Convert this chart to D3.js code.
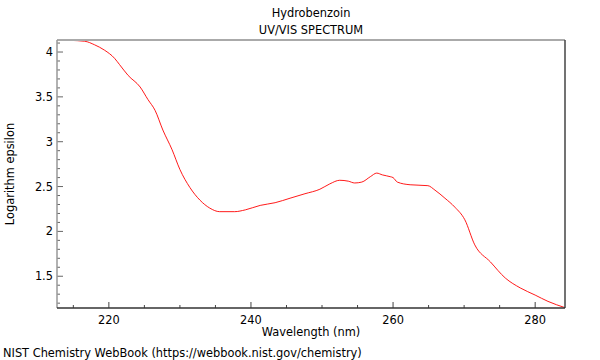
<!DOCTYPE html>
<html><head><meta charset="utf-8">
<script src="https://cdn.jsdelivr.net/npm/d3@7"></script>
<style>body{margin:0;background:#fff}svg{display:block}text{font-family:"DejaVu Sans",sans-serif}</style>
</head><body><svg id="c" width="600" height="360"></svg>
<script>
const wavelength = [212.7,214.5,216.6,218,219.4,220.8,221.5,222.7,224.4,225.5,226.5,227.6,228.9,230,231.4,232.8,234.2,235.6,237.7,239.2,241.3,243.4,245.5,247.6,249.7,251.1,252.5,253.7,254.6,255.6,256.8,257.7,258.5,259.6,260,260.6,262.4,264.9,265.9,267.3,268.7,270.1,271.5,273.7,275.8,277.9,280,281.8,284.2];
const logEps = [4.134,4.13,4.12,4.08,4.02,3.93,3.86,3.74,3.61,3.47,3.35,3.13,2.91,2.69,2.49,2.35,2.26,2.22,2.22,2.24,2.29,2.32,2.37,2.42,2.47,2.53,2.57,2.56,2.54,2.55,2.61,2.65,2.63,2.61,2.60,2.55,2.52,2.51,2.46,2.37,2.27,2.13,1.85,1.66,1.48,1.37,1.29,1.22,1.15];
const xTicks = [220,240,260,280];
const yTicks = [1.5,2,2.5,3,3.5,4];
const titles = ["Hydrobenzoin","UV/VIS SPECTRUM"];

const FS = 11.4;
const svg = d3.select("#c");
const L=57,R=565,T=40,B=308;
const x = d3.scaleLinear().domain([212.7,284.2]).range([L,R]);
const y = d3.scaleLinear().domain([1.146,4.134]).range([B,T]);

const g = svg.append("g");
d3.range(215,285,5).forEach(v=>{
  const major = xTicks.includes(v);
  g.append("line").attr("x1",x(v)).attr("x2",x(v)).attr("y1",B).attr("y2",B-(major?6:3)).attr("stroke","#444");
});
d3.range(12,42,1).map(d=>d/10).forEach(v=>{
  if(v<1.146||v>4.134) return;
  const major = yTicks.some(t=>Math.abs(t-v)<1e-6);
  g.append("line").attr("x1",L).attr("x2",L+(major?6:3)).attr("y1",y(v)).attr("y2",y(v)).attr("stroke","#666");
});
xTicks.forEach(v=>svg.append("text").attr("x",x(v)).attr("y",B+16).attr("text-anchor","middle").attr("font-size",FS).text(v));
yTicks.forEach(v=>svg.append("text").attr("x",L-4).attr("y",y(v)+4).attr("text-anchor","end").attr("font-size",FS).text(v));

const line = d3.line().x((d,i)=>x(wavelength[i])).y(d=>y(d)).curve(d3.curveMonotoneX);
svg.append("path").datum(logEps).attr("d",line).attr("fill","none").attr("stroke","#ff0000").attr("stroke-width",0.9);

svg.append("line").attr("x1",L).attr("x2",R).attr("y1",T).attr("y2",T).attr("stroke","#aaa").attr("stroke-width",2);
svg.append("line").attr("x1",L).attr("x2",L).attr("y1",T).attr("y2",B).attr("stroke","#999").attr("stroke-width",1.5);
svg.append("line").attr("x1",R).attr("x2",R).attr("y1",T).attr("y2",B).attr("stroke","#444").attr("stroke-width",1.5);
svg.append("line").attr("x1",L).attr("x2",R).attr("y1",B).attr("y2",B).attr("stroke","#333").attr("stroke-width",1.5);

svg.append("text").attr("x",311).attr("y",17).attr("text-anchor","middle").attr("font-size",FS).text(titles[0]);
svg.append("text").attr("x",311).attr("y",34).attr("text-anchor","middle").attr("font-size",FS).text(titles[1]);
svg.append("text").attr("x",311).attr("y",336).attr("text-anchor","middle").attr("font-size",FS).text("Wavelength (nm)");
svg.append("text").attr("transform","translate(14,174) rotate(-90)").attr("text-anchor","middle").attr("font-size",FS).text("Logarithm epsilon");
svg.append("text").attr("x",3).attr("y",357).attr("font-size",FS).text("NIST Chemistry WebBook (https://webbook.nist.gov/chemistry)");
</script></body></html>
